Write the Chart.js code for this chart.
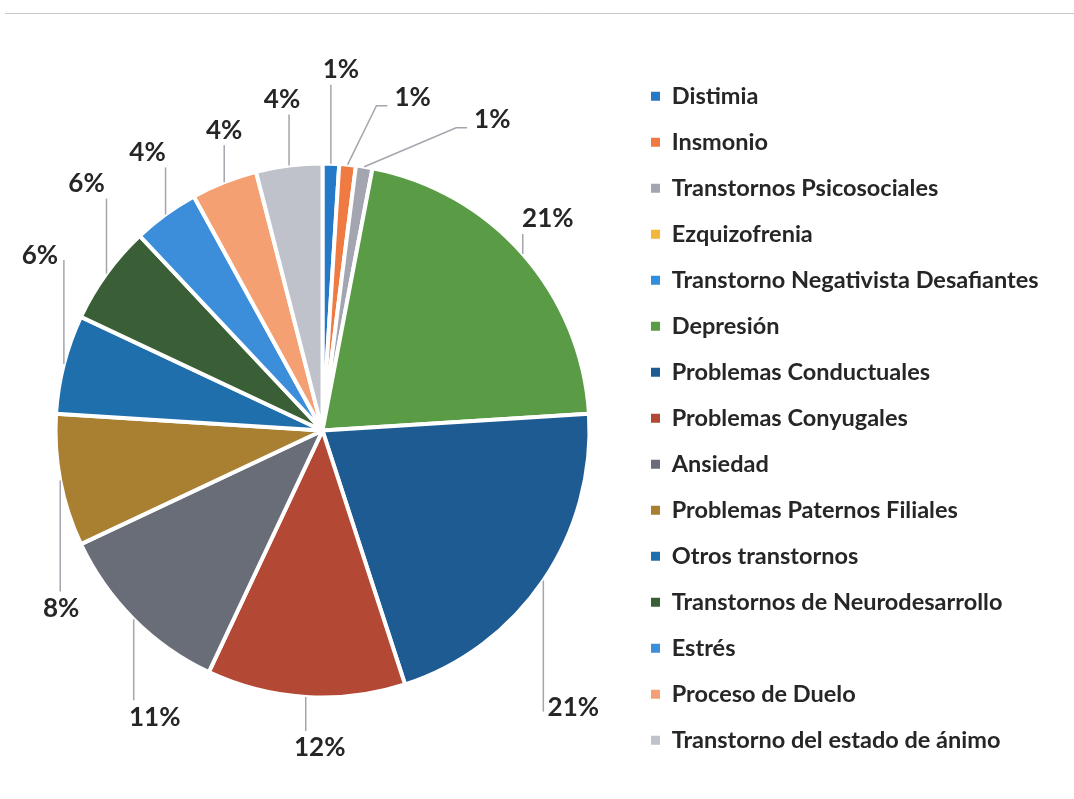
<!DOCTYPE html>
<html>
<head>
<meta charset="utf-8">
<script src="https://cdn.jsdelivr.net/npm/chart.js@4.4.1/dist/chart.umd.min.js"></script>
<style>
  html, body { margin: 0; padding: 0; background: #ffffff; overflow: hidden; }
  #wrap { position: relative; width: 1074px; height: 799px; }
</style>
</head>
<body>
<div id="wrap"><canvas id="c" width="1074" height="799"></canvas></div>
<script>
// Categories and their share of cases (%)
const categories = [
  'Distimia',
  'Insmonio',
  'Transtornos Psicosociales',
  'Ezquizofrenia',
  'Transtorno Negativista Desafiantes',
  'Depresión',
  'Problemas Conductuales',
  'Problemas Conyugales',
  'Ansiedad',
  'Problemas Paternos Filiales',
  'Otros transtornos',
  'Transtornos de Neurodesarrollo',
  'Estrés',
  'Proceso de Duelo',
  'Transtorno del estado de ánimo'
];
const percentages = [1, 1, 1, 0, 0, 21, 21, 12, 11, 8, 6, 6, 4, 4, 4];

const sliceColors = [
  '#2479c9', '#ef7b43', '#a3a6b1', '#f3b73c', '#2f8fdf',
  '#5a9b46', '#1e5b93', '#b34835', '#686d77', '#a97f31',
  '#1f6fad', '#3a5f36', '#3c8edb', '#f5a072', '#bfc1cb'
];

// Where each percentage label sits, relative to the outer edge of its slice
const labelOffsets = [
  [10, -95], [65, -68, 'elbow'], [128, -48, 'elbow'], null, null,
  [25, -36], [30, 126], [14, 50], [21, 97], [1, 127],
  [-24, -109], [-20, -91], [-18, -63], [0, -53], [-7, -67]
];

const TEXT_COLOR = '#262626';

const frameLine = {
  id: 'frameLine',
  beforeDraw(chart) {
    const ctx = chart.ctx;
    ctx.save();
    ctx.strokeStyle = '#c9c9c9';
    ctx.lineWidth = 1;
    ctx.beginPath();
    ctx.moveTo(5, 13.5);
    ctx.lineTo(chart.width, 13.5);
    ctx.stroke();
    ctx.restore();
  }
};

const pctLabels = {
  id: 'pctLabels',
  afterDatasetsDraw(chart) {
    const ctx = chart.ctx;
    const meta = chart.getDatasetMeta(0);
    ctx.save();
    ctx.font = 'bold 26px Lato';
    ctx.textAlign = 'center';
    ctx.textBaseline = 'middle';
    meta.data.forEach((arc, i) => {
      const v = percentages[i];
      const off = labelOffsets[i];
      if (!v || !off) return;
      const p = arc.getProps(['x', 'y', 'startAngle', 'endAngle', 'outerRadius'], true);
      const mid = (p.startAngle + p.endAngle) / 2;
      const px = p.x + p.outerRadius * Math.cos(mid);
      const py = p.y + p.outerRadius * Math.sin(mid);
      const lx = px + off[0];
      const ly = py + off[1];
      const text = v + '%';
      const w = ctx.measureText(text).width;
      const left = lx - w / 2, right = lx + w / 2;

      ctx.strokeStyle = '#a4a5ad';
      ctx.lineWidth = 1.5;
      ctx.beginPath();
      if (off[2] === 'elbow') {
        ctx.moveTo(px, py);
        ctx.lineTo(left - 18, ly + 9);
        ctx.lineTo(left - 7, ly + 9);
      } else {
        let yEnd;
        if (px >= left - 2 && px <= right + 2) {
          yEnd = ly + (py > ly ? 16 : -16);
        } else {
          yEnd = ly + 5;
        }
        ctx.moveTo(px, py);
        ctx.lineTo(px, yEnd);
      }
      ctx.stroke();

      ctx.fillStyle = TEXT_COLOR;
      ctx.fillText(text, lx, ly + 1);
    });
    ctx.restore();
  }
};

new Chart(document.getElementById('c'), {
  type: 'pie',
  data: {
    labels: categories,
    datasets: [{
      data: percentages,
      backgroundColor: sliceColors,
      borderColor: '#ffffff',
      borderWidth: 4,
      radius: 267
    }]
  },
  options: {
    responsive: false,
    devicePixelRatio: 1,
    animation: false,
    layout: { padding: { top: 62, bottom: -12, left: 16.5, right: 26.5 } },
    plugins: {
      tooltip: { enabled: false },
      legend: {
        position: 'right',
        align: 'start',
        maxWidth: 419,
        labels: {
          boxWidth: 9,
          boxHeight: 9,
          padding: 22.5,
          color: TEXT_COLOR,
          font: { family: 'Lato', size: 23.5, weight: 'bold' },
          generateLabels: (chart) => chart.data.labels.map((t, i) => ({
            text: t,
            fillStyle: sliceColors[i],
            strokeStyle: sliceColors[i],
            lineWidth: 0,
            hidden: false,
            index: i,
            fontColor: TEXT_COLOR
          }))
        }
      }
    }
  },
  plugins: [frameLine, pctLabels]
});
</script>
</body>
</html>
